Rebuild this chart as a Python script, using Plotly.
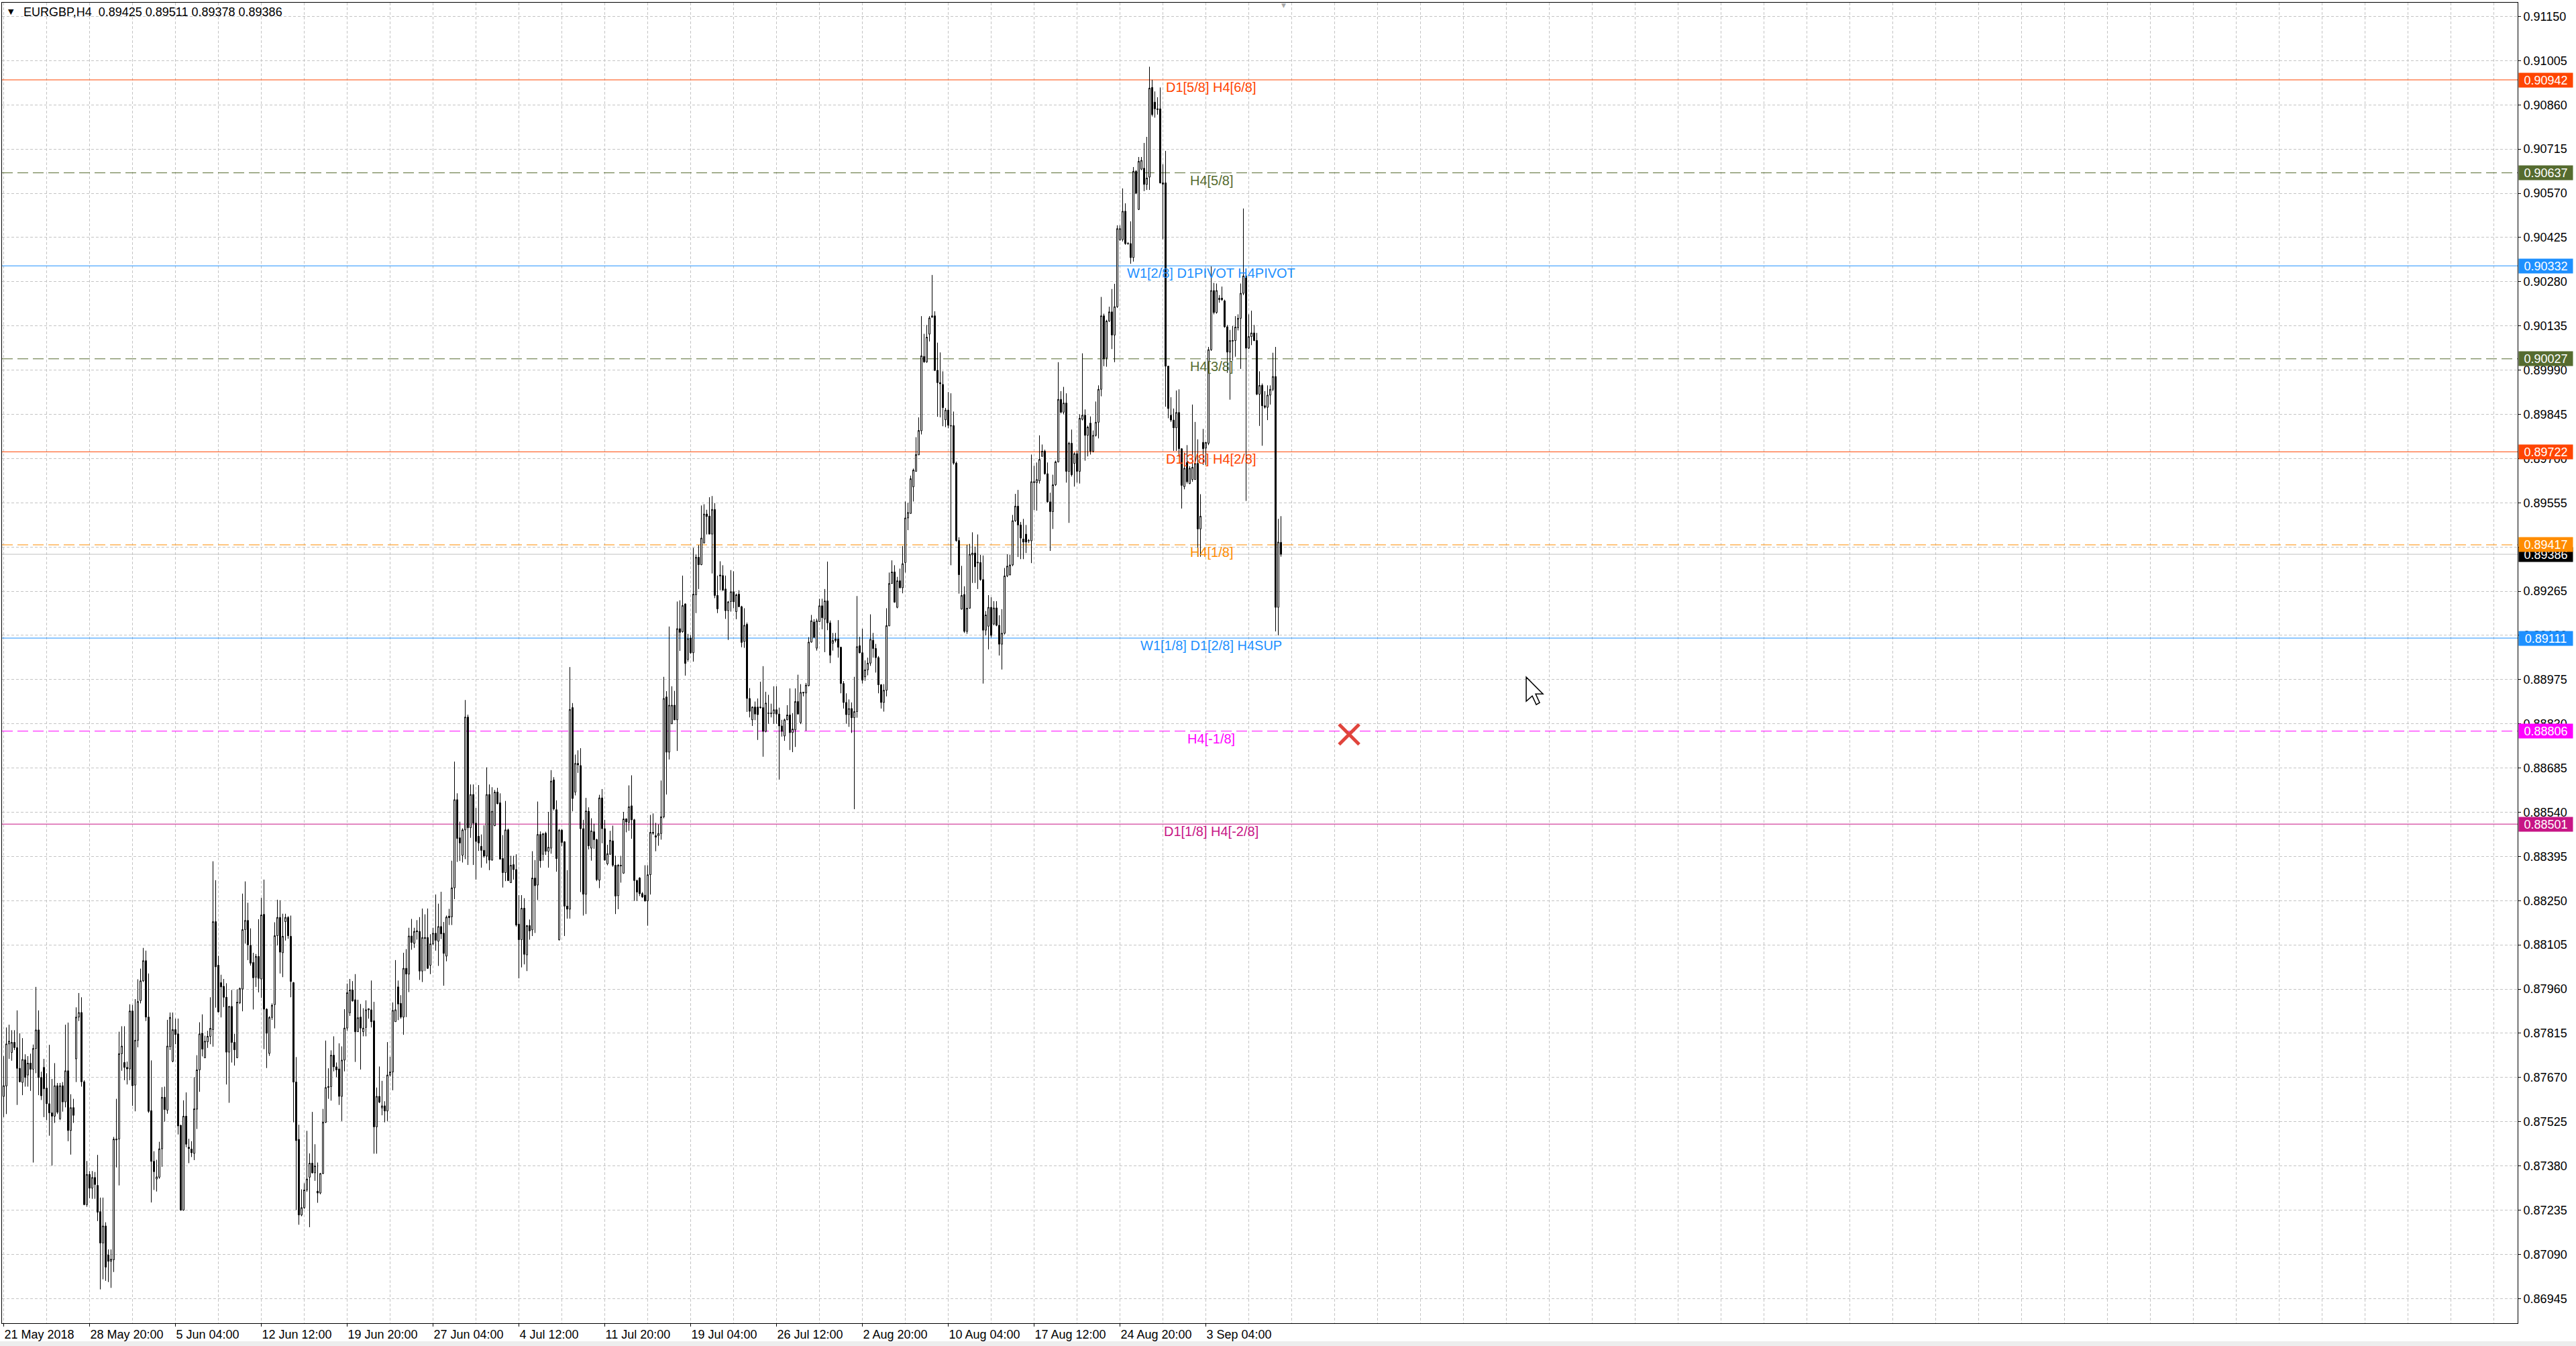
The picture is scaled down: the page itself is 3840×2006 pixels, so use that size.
import plotly.graph_objects as go

# ---------------- data (EURGBP H4) ----------------
opens = [
0.87608,0.87642,0.87780,0.87752,0.87785,0.87768,0.87700,0.87654,0.87728,0.87678,
0.87717,0.87697,0.87765,0.87826,0.87670,0.87703,0.87635,0.87584,0.87554,0.87543,
0.87643,0.87535,0.87643,0.87590,0.87692,0.87496,0.87571,0.87731,0.87868,0.87883,
0.87656,0.87253,0.87352,0.87307,0.87342,0.87316,0.87230,0.87127,0.87183,0.87088,
0.87067,0.87072,0.87468,0.87468,0.87748,0.87719,0.87703,0.87698,0.87888,0.87645,
0.87792,0.87922,0.87987,0.88053,0.87868,0.87561,0.87395,0.87337,0.87343,0.87436,
0.87605,0.87563,0.87771,0.87723,0.87827,0.87813,0.87513,0.87235,0.87543,0.87441,
0.87435,0.87421,0.87566,0.87695,0.87815,0.87735,0.87787,0.87805,0.87827,0.88181,
0.88038,0.87981,0.87969,0.87933,0.87753,0.87903,0.87785,0.87735,0.87915,0.87960,
0.88155,0.88185,0.88103,0.88047,0.87999,0.88067,0.87993,0.88205,0.87894,0.87749,
0.87867,0.87909,0.88135,0.88195,0.88079,0.88181,0.88195,0.88133,0.87981,0.87655,
0.87467,0.87219,0.87243,0.87301,0.87343,0.87389,0.87357,0.87297,0.87291,0.87355,
0.87523,0.87637,0.87640,0.87743,0.87705,0.87698,0.87608,0.87727,0.87832,0.87882,
0.87957,0.87925,0.87820,0.87868,0.87820,0.87834,0.87892,0.87892,0.87856,0.87508,
0.87608,0.87570,0.87577,0.87560,0.87678,0.87688,0.87853,0.87967,0.87913,0.87868,
0.88028,0.88009,0.88134,0.88110,0.88151,0.88149,0.88019,0.88129,0.88129,0.88038,
0.88108,0.88143,0.88117,0.88165,0.88143,0.88068,0.88199,0.88197,0.88292,0.88581,
0.88456,0.88399,0.88482,0.88852,0.88489,0.88598,0.88504,0.88461,0.88428,0.88415,
0.88396,0.88598,0.88383,0.88496,0.88606,0.88571,0.88388,0.88342,0.88482,0.88309,
0.88368,0.88352,0.88173,0.88122,0.88225,0.88072,0.88168,0.88154,0.88324,0.88301,
0.88467,0.88402,0.88471,0.88412,0.88422,0.88646,0.88548,0.88122,0.88481,0.88443,
0.88232,0.88222,0.88883,0.88606,0.88700,0.88693,0.88486,0.88271,0.88543,0.88422,
0.88476,0.88450,0.88317,0.88587,0.88486,0.88371,0.88402,0.88446,0.88366,0.88266,
0.88366,0.88340,0.88518,0.88507,0.88561,0.88515,0.88316,0.88324,0.88273,0.88268,
0.88249,0.88335,0.88474,0.88458,0.88463,0.88470,0.88525,0.88918,0.88737,0.88830,
0.88891,0.88843,0.89142,0.89132,0.89223,0.89041,0.89111,0.89063,0.89253,0.89376,
0.89352,0.89423,0.89518,0.89511,0.89452,0.89533,0.89251,0.89318,0.89316,0.89272,
0.89201,0.89231,0.89263,0.89198,0.89255,0.89214,0.89100,0.89156,0.88913,0.88843,
0.88885,0.88885,0.88885,0.88883,0.88805,0.88864,0.88865,0.88864,0.88876,0.88862,
0.88823,0.88790,0.88843,0.88859,0.88801,0.88810,0.88903,0.88834,0.88931,0.88931,
0.88955,0.89098,0.89164,0.89078,0.89165,0.89217,0.89173,0.89233,0.89161,0.89094,
0.89103,0.89108,0.89081,0.88962,0.88900,0.88860,0.88880,0.88850,0.88870,0.89086,
0.89063,0.88984,0.89007,0.89029,0.89104,0.89077,0.89047,0.88958,0.88900,0.88940,
0.89151,0.89290,0.89328,0.89212,0.89299,0.89276,0.89359,0.89505,0.89520,0.89607,
0.89658,0.89712,0.89791,0.90035,0.90017,0.90108,0.90163,0.90168,0.89989,0.89949,
0.89943,0.89827,0.89859,0.89808,0.89808,0.89685,0.89431,0.89206,0.89254,0.89133,
0.89209,0.89384,0.89390,0.89360,0.89359,0.89303,0.89137,0.89150,0.89212,0.89157,
0.89210,0.89153,0.89091,0.89127,0.89315,0.89318,0.89351,0.89496,0.89544,0.89482,
0.89436,0.89452,0.89430,0.89430,0.89621,0.89621,0.89627,0.89707,0.89724,0.89650,
0.89558,0.89526,0.89614,0.89689,0.89894,0.89852,0.89882,0.89658,0.89750,0.89684,
0.89716,0.89658,0.89829,0.89842,0.89776,0.89816,0.89724,0.89776,0.89819,0.89927,
0.90168,0.90030,0.90151,0.90181,0.90105,0.90198,0.90418,0.90418,0.90511,0.90405,
0.90405,0.90359,0.90642,0.90517,0.90649,0.90652,0.90599,0.90623,0.90917,0.90869,
0.90847,0.90847,0.90604,0.90604,0.90003,0.89842,0.89826,0.89801,0.89851,0.89732,
0.89608,0.89687,0.89618,0.89631,0.89631,0.89684,0.89469,0.89753,0.89734,0.89750,
0.90057,0.90251,0.90179,0.90221,0.90226,0.90217,0.90132,0.90049,0.90085,0.90087,
0.90129,0.90160,0.90242,0.90299,0.90062,0.90100,0.90112,0.90087,0.89911,0.89940,
0.89873,0.89868,0.89908,0.89927,0.89969,0.89212,0.89425]

highs = [
0.87740,0.87834,0.87843,0.87825,0.87825,0.87890,0.87815,0.87799,0.87746,0.87740,
0.87748,0.87778,0.87967,0.87890,0.87689,0.87731,0.87684,0.87777,0.87665,0.87717,
0.87652,0.87652,0.87655,0.87843,0.87850,0.87615,0.87600,0.87900,0.87947,0.87933,
0.87661,0.87396,0.87363,0.87363,0.87360,0.87416,0.87276,0.87276,0.87195,0.87106,
0.87106,0.87475,0.87600,0.87820,0.87838,0.87838,0.87722,0.87910,0.87908,0.87927,
0.87992,0.88027,0.88095,0.88086,0.88011,0.87726,0.87428,0.87400,0.87459,0.87638,
0.87640,0.87859,0.87883,0.87883,0.87863,0.87863,0.87515,0.87595,0.87621,0.87469,
0.87461,0.87671,0.87743,0.87851,0.87877,0.87807,0.87823,0.87933,0.88379,0.88317,
0.88069,0.88007,0.87993,0.87979,0.87905,0.87957,0.87813,0.87959,0.87965,0.88273,
0.88313,0.88243,0.88159,0.88079,0.88075,0.88189,0.88259,0.88319,0.87897,0.87871,
0.87913,0.88179,0.88253,0.88251,0.88207,0.88207,0.88199,0.88201,0.87983,0.87737,
0.87515,0.87303,0.87323,0.87495,0.87421,0.87557,0.87451,0.87391,0.87357,0.87567,
0.87791,0.87700,0.87759,0.87805,0.87719,0.87782,0.87772,0.87894,0.87978,0.87993,
0.87986,0.88009,0.87925,0.87911,0.87897,0.87923,0.87897,0.87988,0.87918,0.87637,
0.87706,0.87659,0.87592,0.87786,0.87738,0.87916,0.88055,0.87988,0.87940,0.88079,
0.88091,0.88161,0.88190,0.88161,0.88186,0.88196,0.88224,0.88205,0.88224,0.88140,
0.88161,0.88270,0.88240,0.88279,0.88180,0.88201,0.88223,0.88381,0.88706,0.88602,
0.88509,0.88487,0.88908,0.88860,0.88631,0.88631,0.88554,0.88629,0.88467,0.88497,
0.88687,0.88631,0.88622,0.88613,0.88620,0.88602,0.88465,0.88577,0.88486,0.88397,
0.88397,0.88402,0.88268,0.88268,0.88258,0.88170,0.88188,0.88412,0.88383,0.88575,
0.88477,0.88472,0.88476,0.88541,0.88678,0.88655,0.88579,0.88485,0.88485,0.88445,
0.88350,0.89016,0.88898,0.88729,0.88743,0.88750,0.88515,0.88587,0.88556,0.88520,
0.88502,0.88453,0.88597,0.88616,0.88515,0.88433,0.88479,0.88496,0.88397,0.88370,
0.88397,0.88541,0.88520,0.88628,0.88661,0.88518,0.88319,0.88327,0.88278,0.88366,
0.88366,0.88531,0.88536,0.88505,0.88500,0.88644,0.88984,0.88937,0.89149,0.88953,
0.88938,0.89231,0.89235,0.89316,0.89225,0.89125,0.89121,0.89407,0.89385,0.89416,
0.89546,0.89550,0.89532,0.89573,0.89577,0.89554,0.89316,0.89363,0.89350,0.89316,
0.89233,0.89334,0.89330,0.89257,0.89268,0.89217,0.89209,0.89162,0.88947,0.88887,
0.88903,0.88913,0.88968,0.89019,0.88935,0.88925,0.88896,0.88953,0.88953,0.88883,
0.88843,0.88847,0.88891,0.88946,0.88865,0.88946,0.88991,0.88960,0.88935,0.88964,
0.89114,0.89187,0.89173,0.89175,0.89240,0.89240,0.89272,0.89362,0.89169,0.89128,
0.89128,0.89170,0.89083,0.88970,0.88930,0.88910,0.88900,0.88984,0.89249,0.89115,
0.89142,0.89038,0.89047,0.89189,0.89128,0.89092,0.89052,0.88960,0.88960,0.89209,
0.89326,0.89366,0.89350,0.89312,0.89339,0.89413,0.89559,0.89555,0.89644,0.89667,
0.89770,0.89835,0.90167,0.90109,0.90138,0.90167,0.90302,0.90183,0.90080,0.90048,
0.89986,0.89866,0.89918,0.89914,0.89854,0.89690,0.89442,0.89348,0.89281,0.89417,
0.89420,0.89458,0.89411,0.89451,0.89384,0.89382,0.89200,0.89252,0.89245,0.89232,
0.89232,0.89186,0.89206,0.89341,0.89386,0.89384,0.89515,0.89584,0.89597,0.89492,
0.89502,0.89482,0.89436,0.89713,0.89676,0.89687,0.89776,0.89746,0.89729,0.89687,
0.89588,0.89647,0.89693,0.90016,0.89921,0.89935,0.89914,0.89755,0.89795,0.89720,
0.89726,0.89845,0.90045,0.89861,0.89808,0.89838,0.89792,0.89887,0.89940,0.90230,
0.90175,0.90155,0.90198,0.90256,0.90273,0.90465,0.90465,0.90586,0.90537,0.90409,
0.90478,0.90656,0.90646,0.90689,0.90689,0.90735,0.90755,0.90985,0.90942,0.90904,
0.90885,0.90917,0.90665,0.90709,0.90003,0.89901,0.89864,0.89923,0.89927,0.89734,
0.89719,0.89744,0.89675,0.89877,0.89820,0.89763,0.89583,0.89797,0.89754,0.90066,
0.90330,0.90276,0.90274,0.90236,0.90264,0.90221,0.90138,0.90122,0.90135,0.90167,
0.90173,0.90274,0.90520,0.90305,0.90173,0.90185,0.90138,0.90112,0.89986,0.89946,
0.89921,0.89940,0.89940,0.90047,0.90066,0.89502,0.89511]

lows = [
0.87540,0.87550,0.87731,0.87725,0.87760,0.87580,0.87654,0.87612,0.87640,0.87640,
0.87626,0.87391,0.87684,0.87612,0.87596,0.87540,0.87530,0.87479,0.87381,0.87521,
0.87550,0.87530,0.87558,0.87572,0.87461,0.87417,0.87521,0.87655,0.87855,0.87640,
0.87251,0.87246,0.87274,0.87272,0.87272,0.87199,0.86975,0.87008,0.87003,0.86999,
0.86980,0.87032,0.87375,0.87316,0.87692,0.87661,0.87647,0.87661,0.87577,0.87559,
0.87769,0.87913,0.87983,0.87855,0.87554,0.87260,0.87301,0.87296,0.87338,0.87377,
0.87525,0.87551,0.87760,0.87720,0.87779,0.87483,0.87233,0.87233,0.87441,0.87389,
0.87409,0.87399,0.87501,0.87623,0.87739,0.87733,0.87767,0.87779,0.87771,0.87899,
0.87883,0.87867,0.87901,0.87647,0.87587,0.87719,0.87709,0.87733,0.87911,0.87887,
0.88109,0.88055,0.88037,0.87893,0.87967,0.87949,0.87931,0.87763,0.87701,0.87741,
0.87859,0.87831,0.88103,0.88011,0.87999,0.88119,0.88125,0.87933,0.87523,0.87235,
0.87187,0.87215,0.87239,0.87295,0.87179,0.87355,0.87331,0.87259,0.87287,0.87353,
0.87521,0.87600,0.87594,0.87690,0.87671,0.87580,0.87527,0.87690,0.87823,0.87872,
0.87919,0.87721,0.87820,0.87696,0.87805,0.87805,0.87863,0.87834,0.87420,0.87420,
0.87586,0.87546,0.87523,0.87527,0.87673,0.87628,0.87853,0.87858,0.87863,0.87810,
0.87868,0.87950,0.88089,0.88095,0.88122,0.87990,0.87983,0.88019,0.88026,0.88009,
0.88103,0.88086,0.88036,0.88124,0.87971,0.88051,0.88170,0.88170,0.88255,0.88377,
0.88380,0.88375,0.88386,0.88367,0.88456,0.88367,0.88319,0.88413,0.88358,0.88391,
0.88372,0.88350,0.88381,0.88494,0.88566,0.88386,0.88293,0.88314,0.88314,0.88309,
0.88319,0.88165,0.87995,0.88031,0.88041,0.88019,0.88122,0.88134,0.88144,0.88252,
0.88358,0.88381,0.88400,0.88358,0.88404,0.88546,0.88345,0.88119,0.88428,0.88134,
0.88191,0.88191,0.88543,0.88595,0.88669,0.88278,0.88201,0.88206,0.88418,0.88381,
0.88420,0.88314,0.88291,0.88438,0.88381,0.88366,0.88400,0.88361,0.88206,0.88222,
0.88309,0.88338,0.88474,0.88479,0.88453,0.88249,0.88249,0.88265,0.88259,0.88247,
0.88168,0.88270,0.88466,0.88412,0.88430,0.88450,0.88520,0.88598,0.88713,0.88829,
0.88842,0.88741,0.89069,0.89129,0.88988,0.89034,0.89059,0.89034,0.89193,0.89272,
0.89350,0.89422,0.89451,0.89452,0.89323,0.89242,0.89193,0.89268,0.89267,0.89174,
0.89105,0.89198,0.89209,0.89173,0.89213,0.89081,0.89079,0.88869,0.88851,0.88823,
0.88842,0.88777,0.88880,0.88722,0.88802,0.88830,0.88851,0.88830,0.88830,0.88647,
0.88788,0.88774,0.88842,0.88744,0.88737,0.88754,0.88860,0.88829,0.88920,0.88807,
0.88953,0.89096,0.89113,0.89070,0.89164,0.89140,0.89065,0.89137,0.89029,0.89070,
0.89097,0.89047,0.88930,0.88880,0.88830,0.88820,0.88800,0.88550,0.88850,0.89061,
0.88962,0.88971,0.88989,0.89020,0.89047,0.88998,0.88930,0.88880,0.88870,0.88920,
0.89151,0.89290,0.89227,0.89209,0.89274,0.89258,0.89326,0.89465,0.89519,0.89559,
0.89658,0.89712,0.89779,0.90014,0.90014,0.90084,0.90163,0.89987,0.89837,0.89835,
0.89806,0.89803,0.89799,0.89350,0.89680,0.89427,0.89257,0.89205,0.89128,0.89125,
0.89209,0.89292,0.89292,0.89272,0.89299,0.88962,0.89120,0.89074,0.89113,0.89153,
0.89150,0.89054,0.89008,0.89123,0.89311,0.89318,0.89347,0.89492,0.89377,0.89370,
0.89370,0.89390,0.89423,0.89357,0.89531,0.89529,0.89618,0.89707,0.89647,0.89555,
0.89397,0.89469,0.89610,0.89687,0.89848,0.89845,0.89621,0.89489,0.89641,0.89608,
0.89621,0.89618,0.89825,0.89693,0.89707,0.89713,0.89720,0.89772,0.89766,0.89904,
0.90003,0.90001,0.90148,0.90059,0.90016,0.90194,0.90414,0.90412,0.90401,0.90401,
0.90339,0.90346,0.90567,0.90515,0.90646,0.90577,0.90581,0.90581,0.90822,0.90818,
0.90828,0.90602,0.90419,0.89870,0.89832,0.89820,0.89725,0.89725,0.89706,0.89536,
0.89599,0.89618,0.89616,0.89624,0.89631,0.89378,0.89378,0.89679,0.89679,0.89744,
0.90053,0.90173,0.90175,0.90211,0.90217,0.90129,0.89981,0.89893,0.90021,0.90034,
0.90120,0.89994,0.90236,0.89561,0.90059,0.90072,0.90085,0.89908,0.89807,0.89742,
0.89864,0.89826,0.89877,0.89921,0.89133,0.89120,0.89378]

closes = [
0.87643,0.87780,0.87789,0.87785,0.87768,0.87700,0.87656,0.87729,0.87670,0.87717,
0.87697,0.87765,0.87826,0.87670,0.87610,0.87633,0.87584,0.87554,0.87543,0.87643,
0.87556,0.87643,0.87590,0.87692,0.87496,0.87571,0.87546,0.87868,0.87883,0.87656,
0.87253,0.87352,0.87307,0.87342,0.87319,0.87228,0.87127,0.87183,0.87048,0.87067,
0.87074,0.87468,0.87465,0.87748,0.87773,0.87703,0.87698,0.87888,0.87643,0.87792,
0.87919,0.87987,0.88053,0.87868,0.87559,0.87395,0.87361,0.87344,0.87436,0.87605,
0.87565,0.87773,0.87867,0.87827,0.87811,0.87511,0.87235,0.87543,0.87451,0.87437,
0.87423,0.87567,0.87695,0.87813,0.87763,0.87789,0.87805,0.87831,0.88181,0.88033,
0.87885,0.87967,0.87933,0.87753,0.87903,0.87785,0.87761,0.87917,0.87962,0.88155,
0.88185,0.88105,0.88045,0.87997,0.88067,0.87995,0.88203,0.87894,0.87815,0.87867,
0.87907,0.88135,0.88195,0.88081,0.88133,0.88195,0.88135,0.87985,0.87655,0.87463,
0.87219,0.87243,0.87301,0.87337,0.87389,0.87357,0.87380,0.87291,0.87355,0.87523,
0.87637,0.87640,0.87743,0.87705,0.87695,0.87608,0.87727,0.87832,0.87948,0.87957,
0.87921,0.87820,0.87866,0.87832,0.87832,0.87892,0.87895,0.87853,0.87508,0.87608,
0.87589,0.87577,0.87560,0.87678,0.87688,0.87890,0.87892,0.87911,0.87868,0.88028,
0.88009,0.88134,0.88113,0.88149,0.88148,0.88019,0.88129,0.88126,0.88028,0.88108,
0.88143,0.88120,0.88165,0.88141,0.88077,0.88196,0.88194,0.88292,0.88581,0.88454,
0.88439,0.88482,0.88852,0.88489,0.88598,0.88504,0.88444,0.88439,0.88415,0.88396,
0.88598,0.88383,0.88543,0.88606,0.88568,0.88386,0.88342,0.88482,0.88316,0.88366,
0.88352,0.88170,0.88122,0.88225,0.88074,0.88168,0.88151,0.88324,0.88299,0.88467,
0.88381,0.88469,0.88412,0.88425,0.88642,0.88551,0.88388,0.88481,0.88441,0.88232,
0.88222,0.88877,0.88585,0.88700,0.88695,0.88486,0.88271,0.88544,0.88430,0.88479,
0.88450,0.88319,0.88587,0.88486,0.88383,0.88404,0.88448,0.88366,0.88265,0.88366,
0.88364,0.88518,0.88508,0.88558,0.88515,0.88316,0.88278,0.88273,0.88262,0.88249,
0.88335,0.88474,0.88471,0.88463,0.88470,0.88525,0.88913,0.88737,0.88891,0.88891,
0.88843,0.89142,0.89130,0.89218,0.89028,0.89109,0.89063,0.89255,0.89376,0.89352,
0.89439,0.89518,0.89510,0.89452,0.89533,0.89251,0.89207,0.89315,0.89268,0.89201,
0.89230,0.89263,0.89230,0.89253,0.89214,0.89097,0.89153,0.88913,0.88871,0.88885,
0.88862,0.88860,0.88883,0.88805,0.88898,0.88865,0.88864,0.88876,0.88862,0.88823,
0.88805,0.88843,0.88859,0.88801,0.88813,0.88903,0.88862,0.88933,0.88933,0.88957,
0.89098,0.89168,0.89113,0.89168,0.89217,0.89178,0.89233,0.89161,0.89055,0.89103,
0.89108,0.89081,0.88962,0.88900,0.88860,0.88880,0.88850,0.88870,0.89083,0.89063,
0.88973,0.89007,0.89029,0.89107,0.89077,0.89047,0.88958,0.88900,0.88940,0.89152,
0.89290,0.89328,0.89229,0.89299,0.89276,0.89355,0.89505,0.89523,0.89634,0.89662,
0.89713,0.89792,0.90037,0.90017,0.90098,0.90161,0.90168,0.89989,0.89949,0.89945,
0.89867,0.89859,0.89809,0.89807,0.89685,0.89431,0.89319,0.89251,0.89133,0.89209,
0.89386,0.89390,0.89345,0.89358,0.89303,0.89137,0.89187,0.89212,0.89120,0.89210,
0.89153,0.89091,0.89127,0.89315,0.89347,0.89351,0.89496,0.89544,0.89482,0.89439,
0.89426,0.89426,0.89431,0.89624,0.89624,0.89631,0.89697,0.89724,0.89650,0.89558,
0.89526,0.89614,0.89689,0.89894,0.89852,0.89882,0.89658,0.89750,0.89647,0.89716,
0.89658,0.89832,0.89842,0.89776,0.89803,0.89724,0.89776,0.89819,0.89927,0.90168,
0.90027,0.90151,0.90181,0.90105,0.90198,0.90454,0.90454,0.90511,0.90405,0.90406,
0.90359,0.90642,0.90570,0.90675,0.90678,0.90599,0.90620,0.90915,0.90828,0.90847,
0.90845,0.90604,0.90600,0.90003,0.89864,0.89826,0.89801,0.89851,0.89732,0.89612,
0.89668,0.89624,0.89668,0.89671,0.89684,0.89469,0.89511,0.89732,0.89753,0.90057,
0.90251,0.90179,0.90251,0.90226,0.90221,0.90132,0.90049,0.90087,0.90087,0.90131,
0.90160,0.90242,0.90299,0.90062,0.90100,0.90112,0.90087,0.89911,0.89940,0.89873,
0.89868,0.89908,0.89927,0.89969,0.89212,0.89426,0.89386]

date_tick_bars = [0, 32, 64, 96, 128, 160, 192, 224, 256, 288, 320, 352, 384, 416, 448]
date_tick_labels = ["21 May 2018", "28 May 20:00", "5 Jun 04:00", "12 Jun 12:00",
                    "19 Jun 20:00", "27 Jun 04:00", "4 Jul 12:00", "11 Jul 20:00",
                    "19 Jul 04:00", "26 Jul 12:00", "2 Aug 20:00", "10 Aug 04:00",
                    "17 Aug 12:00", "24 Aug 20:00", "3 Sep 04:00"]

level_prices = [0.90942, 0.90637, 0.90332, 0.90027, 0.89722, 0.89417, 0.89111, 0.88806, 0.88501]
level_texts = ["D1[5/8] H4[6/8]", "H4[5/8]", "W1[2/8] D1PIVOT H4PIVOT", "H4[3/8]",
               "D1[3/8] H4[2/8]", "H4[1/8]", "W1[1/8] D1[2/8] H4SUP", "H4[-1/8]",
               "D1[1/8] H4[-2/8]"]
level_colors = ["#FF4500", "#556B2F", "#1E90FF", "#556B2F", "#FF4500",
                "#FF8C00", "#1E90FF", "#FF00FF", "#C71585"]
level_dashed = [False, True, False, True, False, True, False, True, False]

label_bar = 450
cross_bar, cross_price = 501.4, 0.88795
cursor_bar, cursor_price = 567.4, 0.88983

# ---------------- axes geometry ----------------
x_lo, x_hi = -0.625, 936.875
y_lo, y_hi = 0.868641, 0.911951
price_tick0, price_step = 0.86945, 0.00145
grid_minor_bars = 16

FONT = "Liberation Sans"
GRID = "#C4C4C4"
GRID_DASH = "4px,3px"
LEVEL_DASH = "16px,7px"

bars = list(range(len(opens)))

fig = go.Figure()
fig.add_trace(go.Candlestick(
    x=bars, open=opens, high=highs, low=lows, close=closes,
    increasing=dict(line=dict(color="black", width=1), fillcolor="white"),
    decreasing=dict(line=dict(color="black", width=1), fillcolor="black"),
    whiskerwidth=0, showlegend=False, hoverinfo="skip"))

fig.add_trace(go.Scatter(
    x=[cross_bar], y=[cross_price], mode="markers", showlegend=False, hoverinfo="skip",
    marker=dict(symbol="x-thin", size=30, line=dict(width=5, color="#E0443C"))))

shapes = []
for p, c, d in zip(level_prices, level_colors, level_dashed):
    shapes.append(dict(type="line", xref="x", yref="y", x0=x_lo, x1=x_hi, y0=p, y1=p,
                       layer="between",
                       line=dict(color=c, width=1, dash=LEVEL_DASH if d else "solid")))
bid = closes[-1]
shapes.append(dict(type="line", xref="x", yref="y", x0=x_lo, x1=x_hi, y0=bid, y1=bid,
                   layer="between", line=dict(color="#C0C0C0", width=1)))
# mouse cursor (pixel-sized arrow anchored at a chart point)
shapes.append(dict(type="path", xref="x", yref="y", xsizemode="pixel", ysizemode="pixel",
                   xanchor=cursor_bar, yanchor=cursor_price, layer="above",
                   path="M0,0 L0,-36 L9,-28 L15,-41 L20,-38 L14,-25 L25,-25 Z",
                   fillcolor="white", line=dict(color="black", width=1.5)))
# light window strip along the bottom edge
shapes.append(dict(type="rect", xref="paper", yref="paper", x0=-0.01, x1=1.03,
                   y0=-0.0175, y1=-0.0137, layer="above",
                   fillcolor="#EDEDED", line=dict(width=0)))

annotations = []
# level labels on chart
for p, t, c in zip(level_prices, level_texts, level_colors):
    annotations.append(dict(x=label_bar, y=p, xref="x", yref="y", text=t, showarrow=False,
                            xanchor="center", yanchor="top", yshift=2,
                            font=dict(family=FONT, size=20, color=c)))
# price tags on right axis (bid first, so the orange tag covers it)
tag_list = [(bid, "#000000")]
tag_list += [t for t in zip(level_prices, level_colors) if t[0] != 0.89417]
tag_list += [t for t in zip(level_prices, level_colors) if t[0] == 0.89417]
for p, c in tag_list:
    annotations.append(dict(x=1, y=p, xref="paper", yref="y", text=f"{p:.5f}",
                            showarrow=False, xanchor="left", yanchor="middle", xshift=1,
                            bgcolor=c, width=78, height=19, borderpad=1, align="center",
                            font=dict(family=FONT, size=18, color="white")))
# header
annotations.append(dict(x=0, y=1, xref="paper", yref="paper", showarrow=False,
                        xanchor="left", yanchor="top", xshift=7, yshift=-5,
                        text="▼", font=dict(family="DejaVu Sans", size=11, color="black")))
annotations.append(dict(x=0, y=1, xref="paper", yref="paper", showarrow=False,
                        xanchor="left", yanchor="top", xshift=30, yshift=-2,
                        text=f"EURGBP,H4  {opens[-1]:.5f} {highs[-1]:.5f} {lows[-1]:.5f} {closes[-1]:.5f}",
                        font=dict(family=FONT, size=18, color="black")))
# chart shift marker at top
annotations.append(dict(x=bars[-1] + 1, y=1, xref="x", yref="paper", showarrow=False,
                        xanchor="center", yanchor="top", yshift=3,
                        text="▼", font=dict(family="DejaVu Sans", size=9, color="#A8A8A8")))

fig.update_layout(
    width=3840, height=2006,
    margin=dict(l=3, r=87, t=4, b=34),
    paper_bgcolor="white", plot_bgcolor="white",
    font=dict(family=FONT, size=18, color="black"),
    boxgap=0.5, boxgroupgap=0,
    showlegend=False,
    shapes=shapes, annotations=annotations,
    xaxis=dict(
        range=[x_lo, x_hi], rangeslider=dict(visible=False),
        tickmode="array", tickvals=date_tick_bars, ticktext=date_tick_labels,
        ticklabelposition="outside right",
        ticks="outside", ticklen=4, tickcolor="black",
        tickfont=dict(family=FONT, size=18, color="black"),
        showgrid=True, gridcolor=GRID, griddash=GRID_DASH, gridwidth=1,
        minor=dict(dtick=grid_minor_bars, tick0=0, showgrid=True, gridcolor=GRID,
                   griddash=GRID_DASH, ticks=""),
        showline=True, linecolor="black", linewidth=1, mirror=True,
        zeroline=False, fixedrange=True),
    yaxis=dict(
        range=[y_lo, y_hi], side="right",
        tick0=price_tick0, dtick=price_step, tickformat=".5f",
        ticks="outside", ticklen=4, tickcolor="black",
        tickfont=dict(family=FONT, size=18, color="black"),
        showgrid=True, gridcolor=GRID, griddash=GRID_DASH, gridwidth=1,
        showline=True, linecolor="black", linewidth=1, mirror=True,
        zeroline=False, fixedrange=True),
)

fig.write_html("out.html", config={"displayModeBar": False},
               post_script="document.body.style.margin='0px';document.body.style.overflow='hidden';")
